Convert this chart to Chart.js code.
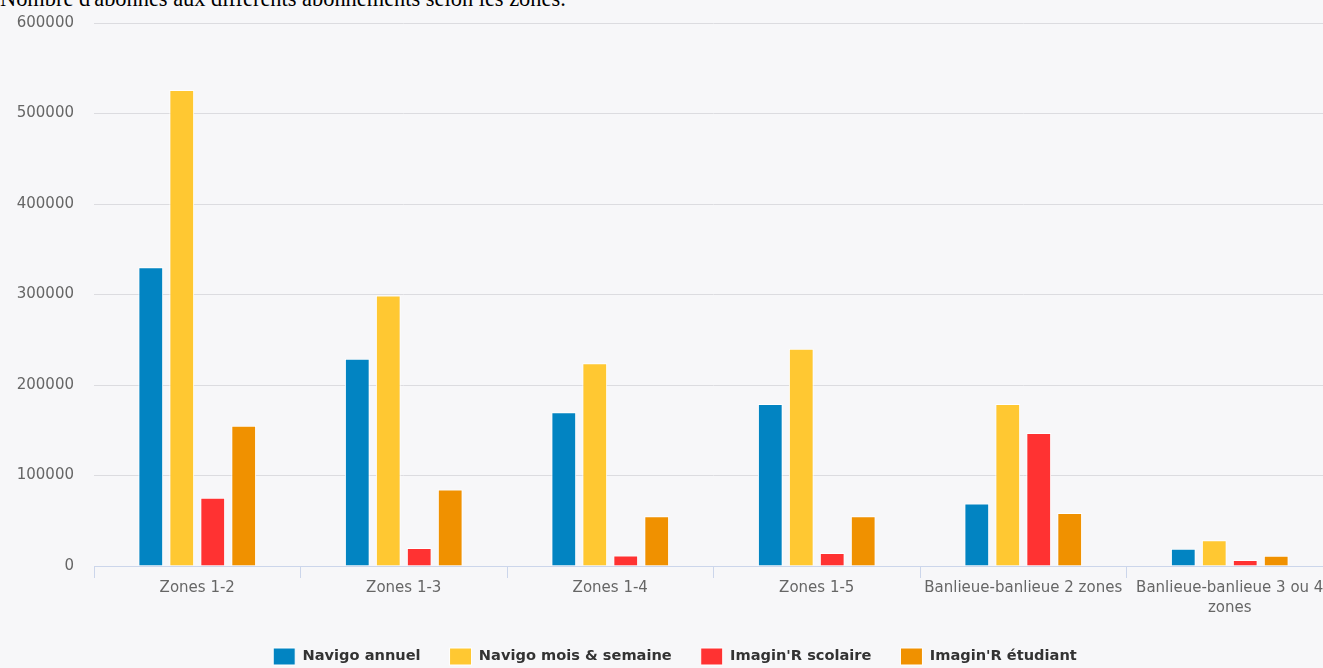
<!DOCTYPE html>
<html lang="fr">
<head>
<meta charset="utf-8">
<script src="https://cdn.jsdelivr.net/npm/chart.js@4"></script>
<style>
    html, body { margin: 0; padding: 0; background: #f7f7f9; overflow: hidden; }
    #title {
        position: absolute; left: 0; top: -12px;
        font: 22.4px/22px "Liberation Serif", serif; color: #000; white-space: nowrap;
    }
    #wrap { position: absolute; left: 0; top: 0; width: 1343px; height: 675px; }
</style>
</head>
<body>
<div id="title">Nombre d'abonnés aux différents abonnements selon les zones.</div>
<div id="wrap"><canvas id="chart" width="1343" height="675"></canvas></div>
<script>
// categories (last one wraps on two lines)
const categories = [
    "Zones 1-2",
    "Zones 1-3",
    "Zones 1-4",
    "Zones 1-5",
    "Banlieue-banlieue 2 zones",
    ["Banlieue-banlieue 3 ou 4", "zones"],
];

const navigoAnnuel = [330000, 229000, 170000, 179000, 69000, 19000];
const navigoMoisSemaine = [526000, 299000, 224000, 240000, 179000, 28500];
const imaginScolaire = [75500, 20000, 11500, 14500, 147000, 6700];
const imaginEtudiant = [155000, 84500, 55000, 55000, 58500, 11400];

const yTicks = [0, 100000, 200000, 300000, 400000, 500000, 600000];

const axisFont = { family: "'DejaVu Sans', sans-serif", size: 15 };

function serie(label, data, color) {
    return {
        label,
        data,
        backgroundColor: color,
        borderColor: "#ffffff",
        borderWidth: 1,
        categoryPercentage: 0.6,
        barPercentage: 0.8,
    };
}

const ctx = document.getElementById("chart").getContext("2d");
new Chart(ctx, {
    type: "bar",
    data: {
        labels: categories,
        datasets: [
            serie("Navigo annuel", navigoAnnuel, "#0284c2"),
            serie("Navigo mois & semaine", navigoMoisSemaine, "#ffc832"),
            serie("Imagin'R scolaire", imaginScolaire, "#ff3232"),
            serie("Imagin'R étudiant", imaginEtudiant, "#f09100"),
        ],
    },
    options: {
        responsive: false,
        animation: false,
        devicePixelRatio: 1,
        // left padding + narrower y axis keeps the legend centred like the original
        layout: { padding: { top: 23, right: 10, left: 17, bottom: 0 } },
        scales: {
            x: {
                offset: true,
                grid: {
                    offset: true,
                    drawOnChartArea: false,
                    drawTicks: true,
                    tickLength: 12,
                    color: "#ccd6eb",
                },
                border: { display: true, color: "#ccd6eb", width: 1 },
                ticks: {
                    color: "#666666",
                    font: { ...axisFont, lineHeight: 1.35 },
                    padding: 0,
                    maxRotation: 0,
                    minRotation: 0,
                    autoSkip: false,
                },
                afterFit: (scale) => { scale.height = 53; },
            },
            y: {
                min: 0,
                max: 600000,
                grid: { color: "#dcdce0", drawTicks: false },
                border: { display: false },
                ticks: {
                    color: "#666666",
                    font: axisFont,
                    padding: 20,
                    callback: (v) => String(v),
                },
                afterBuildTicks: (scale) => {
                    scale.ticks = yTicks.map((v) => ({ value: v }));
                },
                afterFit: (scale) => {
                    scale.width = 77;
                    // tick padding would otherwise push the plot top down
                    scale.paddingTop = 0;
                    scale.paddingBottom = 0;
                },
            },
        },
        plugins: {
            legend: {
                position: "bottom",
                labels: {
                    boxWidth: 22,
                    boxHeight: 17,
                    padding: 29,
                    color: "#333333",
                    font: { family: "'DejaVu Sans', sans-serif", size: 14.6, weight: "bold" },
                },
            },
            tooltip: { enabled: false },
        },
    },
});
</script>
</body>
</html>
